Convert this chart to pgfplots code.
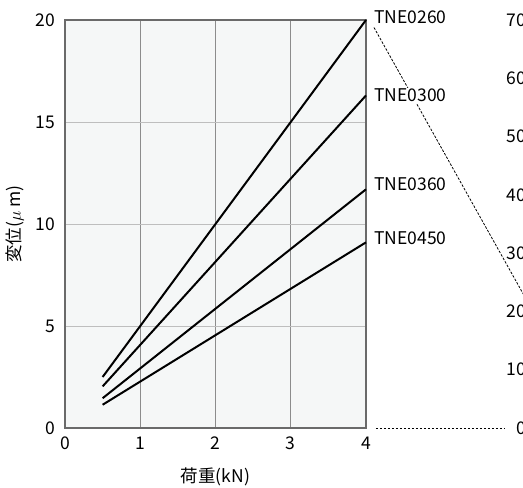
\documentclass[border=0pt]{standalone}
\usepackage{fontspec}
\setmainfont{Noto Sans CJK JP}
\usepackage{pgfplots}
\pgfplotsset{compat=1.18}

\definecolor{bgfill}{HTML}{F5F7F7}
\definecolor{framecol}{HTML}{6A6A6A}
\definecolor{vgrid}{HTML}{8C8C8C}
\definecolor{hgrid}{HTML}{BEBEBE}

\begin{document}
\fontsize{17.5}{21}\selectfont
\begin{tikzpicture}
% main chart
\begin{axis}[
  name=main, at={(0pt,0pt)}, anchor=south west,
  scale only axis, width=301pt, height=408pt,
  xmin=0, xmax=4, ymin=0, ymax=20,
  xtick={0,...,4}, ytick={0,5,...,20},
  major tick length=0pt,
  axis line style={framecol, line width=1.7pt},
  axis background/.style={fill=bgfill},
  xmajorgrids, ymajorgrids,
  x grid style={vgrid, line width=0.9pt},
  y grid style={hgrid, line width=0.9pt},
  /pgf/number format/assume math mode=true,
  ticklabel style={font=\fontsize{17.5}{21}\selectfont},
  xticklabel style={yshift=-3pt},
  yticklabel style={xshift=-4pt},
  xlabel={荷重(kN)}, ylabel={変位($\mu$ m)},
  every axis x label/.style={at={(axis description cs:0.5,0)}, yshift=-49pt, anchor=center},
  every axis y label/.style={at={(axis description cs:0,0.5)}, xshift=-50pt, rotate=90, anchor=center},
  clip=false,
]
\addplot[black, line width=2pt] coordinates {(0.5,2.5) (4,20)};
\addplot[black, line width=2pt] coordinates {(0.5,2.04) (4,16.3)};
\addplot[black, line width=2pt] coordinates {(0.5,1.46) (4,11.7)};
\addplot[black, line width=2pt] coordinates {(0.5,1.14) (4,9.1)};
\coordinate (c260) at (axis cs:4,20);
\coordinate (c300) at (axis cs:4,16.3);
\coordinate (c360) at (axis cs:4,11.7);
\coordinate (c450) at (axis cs:4,9.1);
\end{axis}
% neighbouring chart, only its tick labels show
\begin{axis}[
  name=side, at={(468pt,0pt)}, anchor=south west,
  scale only axis, width=100pt, height=408pt,
  xmin=0, xmax=1, ymin=0, ymax=70,
  xtick=\empty, ytick={0,10,...,70},
  major tick length=0pt,
  axis line style={draw=none},
  /pgf/number format/assume math mode=true,
  ticklabel style={font=\fontsize{17.5}{21}\selectfont},
  yticklabel style={xshift=-1pt},
]
\coordinate (s20) at (axis cs:0,20);
\coordinate (s0) at (axis cs:0,0);
\end{axis}
\draw[black, line width=0.8pt, dash pattern=on 2.5pt off 1.5pt]
  ([shift={(8pt,-7.5pt)}]c260) -- (s20);
\draw[black, line width=0.8pt, dash pattern=on 2.5pt off 1.5pt]
  ([xshift=10pt]main.south east) -- ([xshift=-28pt]s0);
\node[anchor=west, fill=white, inner sep=1pt, xshift=7pt, yshift=2.5pt] at (c260) {TNE0260};
\node[anchor=west, fill=white, inner sep=1pt, xshift=7pt] at (c300) {TNE0300};
\node[anchor=west, fill=white, inner sep=1pt, xshift=7pt, yshift=5pt] at (c360) {TNE0360};
\node[anchor=west, fill=white, inner sep=1pt, xshift=7pt, yshift=4pt] at (c450) {TNE0450};
\pgfresetboundingbox
\path[use as bounding box] (-65pt,-60pt) rectangle (458pt,428pt);
\end{tikzpicture}
\end{document}
